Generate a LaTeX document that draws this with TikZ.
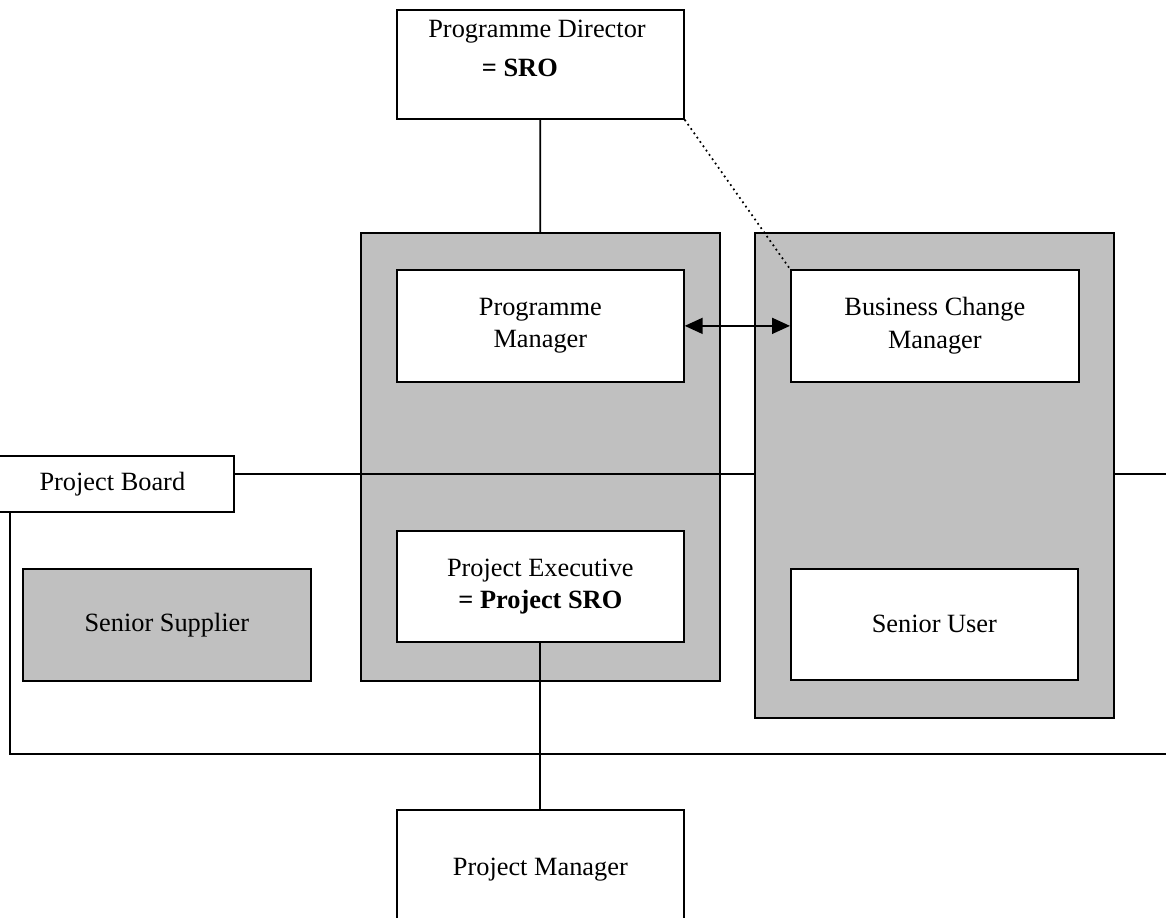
\documentclass[tikz,border=0pt]{standalone}
\usepackage{fontspec}
\setmainfont{Liberation Serif}
\usetikzlibrary{arrows.meta,positioning}
\definecolor{panelgrey}{HTML}{C0C0C0}

\begin{document}
\begin{tikzpicture}[x=0.02cm,y=-0.02cm,line width=1pt,
  font=\fontsize{15}{18.5}\selectfont,
  box/.style={draw,fill=white,rectangle,align=center,inner sep=0pt,anchor=north west,
    minimum width=5.74cm,minimum height=2.24cm},
  panel/.style={draw,fill=panelgrey,rectangle,inner sep=0pt,anchor=north west,
    minimum width=7.18cm}]
  \useasboundingbox (0,0) rectangle (1166,917);

  % grey panel of the programme side, board line runs over it
  \node[panel,minimum height=8.96cm] (progpanel) at (360,232) {};
  \node[box,minimum width=4.86cm,minimum height=1.12cm] (board) at (-10,455) {Project Board};
  \coordinate (boardend) at (1166,474);
  \draw (board.east |- boardend) -- (boardend);
  \node[panel,minimum height=9.70cm] (chgpanel) at (754,232) {};

  \node[box,minimum height=2.18cm] (dir) at (396,9) {};
  \node[anchor=north,align=center,inner sep=0pt] (dirtext) at (537,19)
    {Programme Director\\[4pt]\textbf{= SRO}\hspace*{1.3em}};
  \node[box] (pgm) at (396,269) {Programme\\Manager};
  \node[box,minimum width=5.76cm] (bcm) at (790,269) {Business Change\\Manager};
  \node[box,minimum height=2.22cm] (exec) at (396,530) {Project Executive\\\textbf{= Project SRO}};
  \node[box,minimum height=2.22cm] (user) at (790,568) {Senior User};
  \node[box,fill=panelgrey,minimum width=5.76cm] (supplier) at (22,568) {Senior Supplier};
  \node[box,minimum height=2.40cm] (pm) at (396,809) {Project Manager};

  % board frame
  \coordinate (framecorner) at (10,754);
  \coordinate (frameend) at (1166,754);
  \draw (board.south -| framecorner) -- (framecorner) -- (frameend);

  \path (dir.south) edge (progpanel.north)
        (exec.south) edge (pm.north)
        (dir.south east) edge[dotted] (bcm.north west)
        (pgm.east) edge[{Triangle[length=3.6mm,width=3.2mm]}-{Triangle[length=3.6mm,width=3.2mm]}] (bcm.west);
\end{tikzpicture}
\end{document}
